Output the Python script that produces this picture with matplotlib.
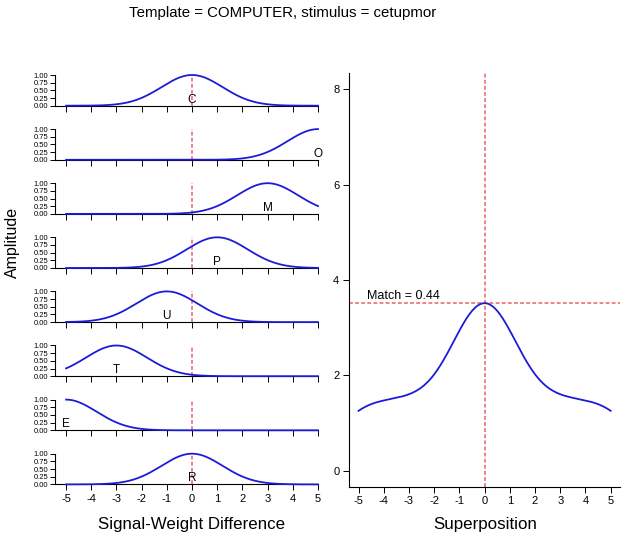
import numpy as np
import matplotlib.pyplot as plt

plt.rcParams['font.family'] = ['Liberation Sans', 'DejaVu Sans']
plt.rcParams['axes.unicode_minus'] = False

# data
template = "COMPUTER"
stimulus = "cetupmor"
letters = ['C', 'O', 'M', 'P', 'U', 'T', 'E', 'R']
offsets = [0, 5, 3, 1, -1, -3, -5, 0]   # stimulus pos - template pos
width = 1.21                             # tuning width of each letter channel
match = 0.44
x_ticks = [-5, -4, -3, -2, -1, 0, 1, 2, 3, 4, 5]
amp_ticks = [0.0, 0.25, 0.5, 0.75, 1.0]
sup_ticks = [0, 2, 4, 6, 8]

x = np.linspace(-5, 5, 301)
curves = [np.exp(-(x - c) ** 2 / (2 * width ** 2)) for c in offsets]
superpos = np.sum(curves, axis=0)

W, H = 625, 539
fig = plt.figure(figsize=(W / 100, H / 100), dpi=100)

blue = '#1c1cd8'
red = '#e8606a'

def px_axes(left, top, right, bottom):
    return fig.add_axes([left / W, 1 - bottom / H, (right - left) / W, (bottom - top) / H])

# small letter panels
for i, (lab, c, y) in enumerate(zip(letters, offsets, curves)):
    top = 75 + 54.1 * i
    ax = px_axes(55, top, 318, top + 30.7)
    ax.plot(x, y, color=blue, lw=1.3, clip_on=False, zorder=3)
    ax.plot([0, 0], [0, 1], color=red, lw=1.1, dashes=(2.5, 1.5), zorder=2)
    ax.text(min(max(c, -5), 5), 0.2, lab, ha='center', va='center', fontsize=8.5)
    ax.set_xlim(-5.44, 5.0)
    ax.set_ylim(0, 1)
    for s in ['top', 'right']:
        ax.spines[s].set_visible(False)
    ax.spines['left'].set_linewidth(0.8)
    ax.spines['bottom'].set_linewidth(0.8)
    ax.set_yticks(amp_ticks)
    ax.set_yticklabels(['%.2f' % t for t in amp_ticks], fontsize=5.5)
    ax.set_xticks(x_ticks)
    ax.tick_params(length=3.5, width=0.7, pad=1.5)
    ax.tick_params(axis='x', length=4, pad=3, labelsize=8)
    if i < len(letters) - 1:
        ax.set_xticklabels([])
    else:
        ax.set_xticklabels([str(t) for t in x_ticks])

# superposition panel
ax = px_axes(349, 73.3, 620, 486.7)
ax.plot(x, superpos, color=blue, lw=1.3, zorder=3)
ax.axvline(0, color=red, lw=1.1, dashes=(2.5, 1.5), zorder=2)
ax.axhline(match * len(letters), color=red, lw=1.1, dashes=(2.5, 1.5), zorder=2, clip_on=False)
ax.text(-4.68, 3.66, 'Match = %.2f' % match, ha='left', va='center', fontsize=9)
ax.set_xlim(-5.38, 5.37)
ax.set_ylim(-0.33, 8.33)
for s in ['top', 'right']:
    ax.spines[s].set_visible(False)
ax.spines['left'].set_linewidth(0.8)
ax.spines['bottom'].set_linewidth(0.8)
ax.set_xticks(x_ticks)
ax.set_yticks(sup_ticks)
ax.tick_params(length=4, width=0.7, labelsize=8, pad=3)

fig.text(282.5 / W, 1 - 13 / H, 'Template = %s, stimulus = %s' % (template, stimulus),
         ha='center', va='center', fontsize=10.8)
fig.text(191.5 / W, 1 - 524 / H, 'Signal-Weight Difference', ha='center', va='center', fontsize=12.2)
fig.text(485 / W, 1 - 524 / H, 'Superposition', ha='center', va='center', fontsize=12.2)
fig.text(12 / W, 1 - 242 / H, 'Amplitude', ha='center', va='center', rotation=90, fontsize=11.5)

fig.savefig('out.png', dpi=100)
